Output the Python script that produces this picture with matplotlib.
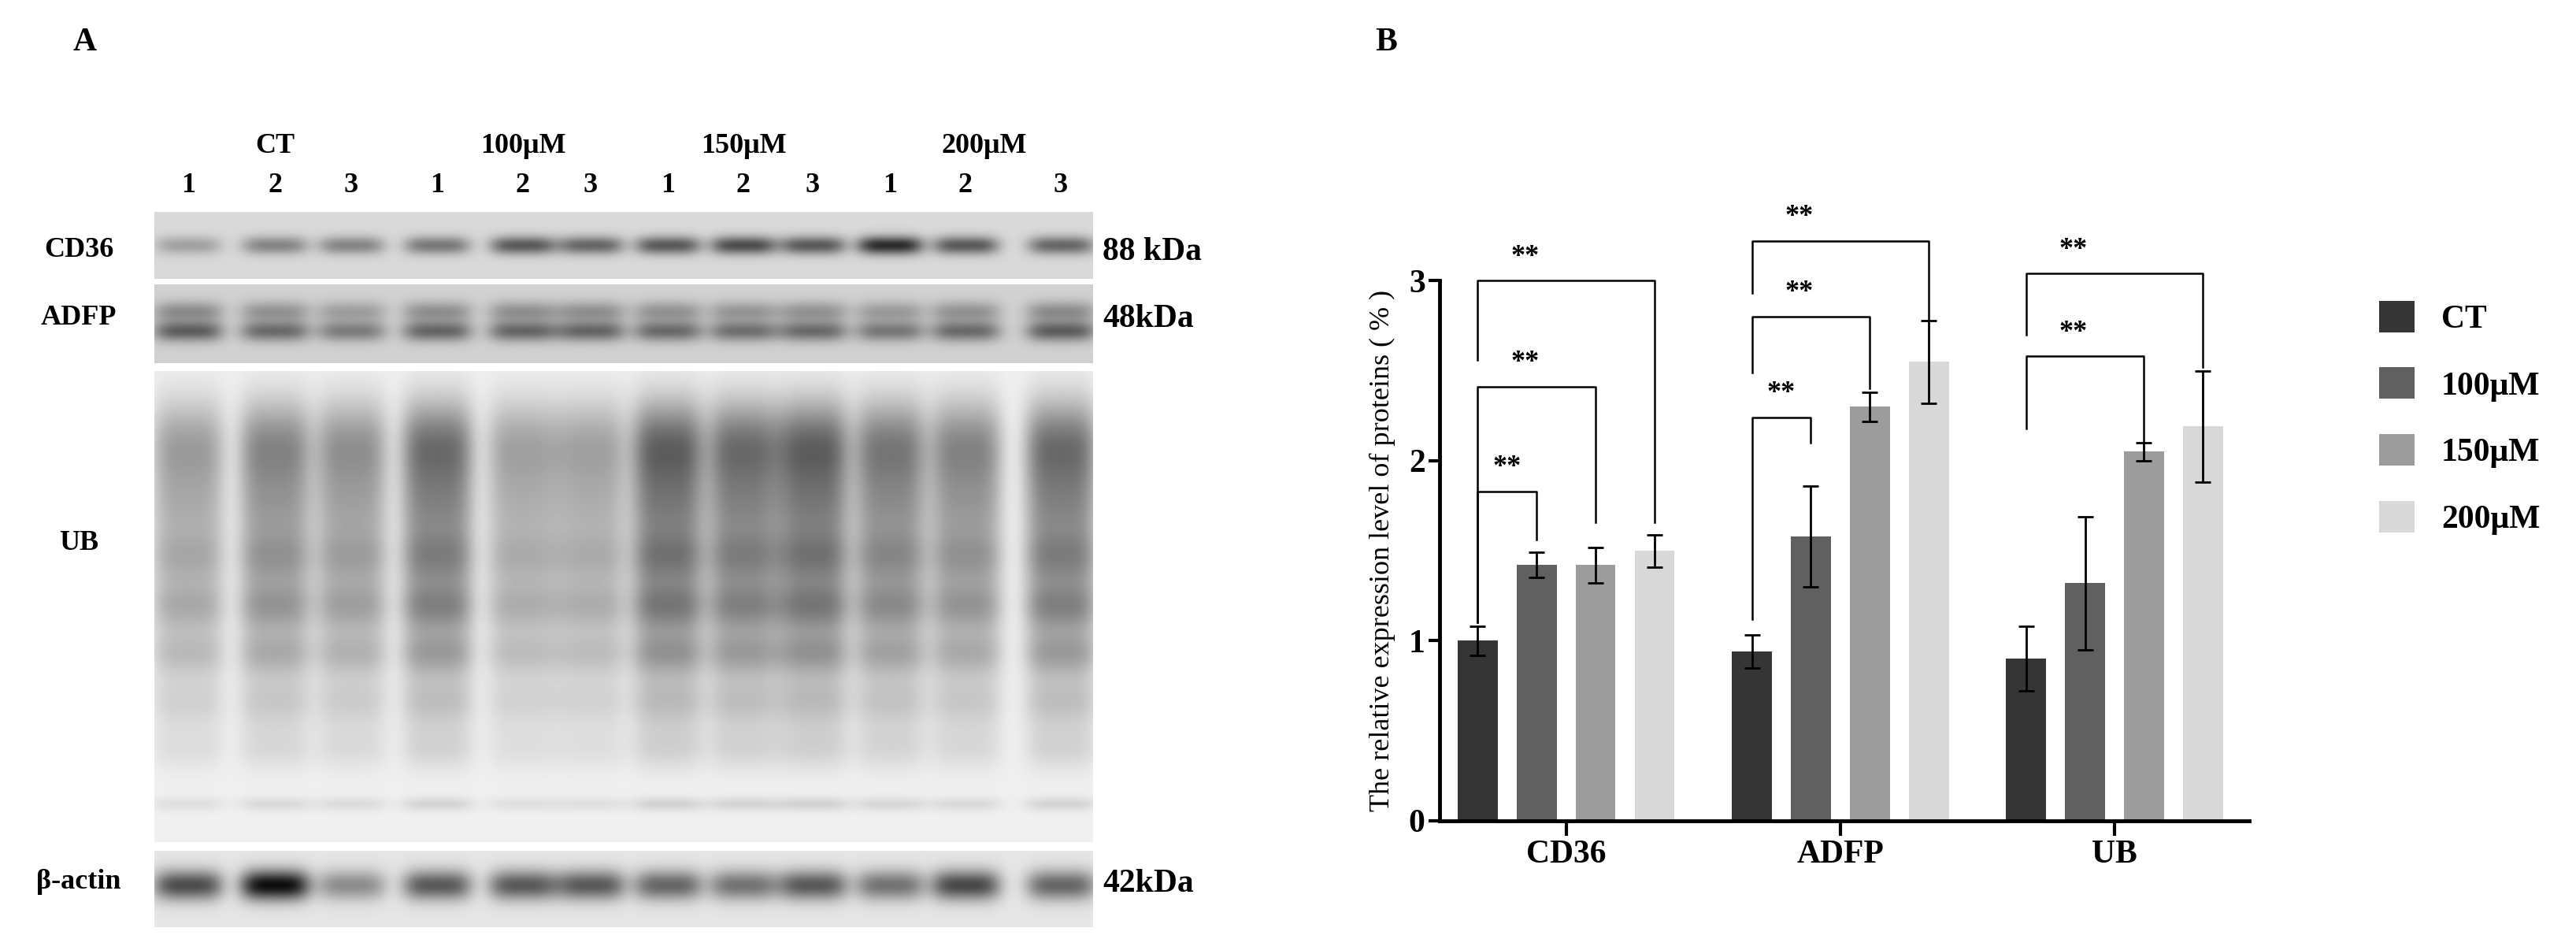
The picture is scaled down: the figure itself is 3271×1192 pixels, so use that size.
import numpy as np
import matplotlib
matplotlib.use("Agg")
import matplotlib.pyplot as plt
from matplotlib.patches import Patch

plt.rcParams['font.family'] = ['Liberation Serif', 'DejaVu Serif']
plt.rcParams['font.weight'] = 'bold'

# ---------------- data ----------------
proteins = ["CD36", "ADFP", "UB"]
groups = ["CT", "100\u03bcM", "150\u03bcM", "200\u03bcM"]
colors = ["#353535", "#606060", "#9c9c9c", "#d8d8d8"]
means = {
    "CT":      [1.00, 0.94, 0.90],
    "100\u03bcM": [1.42, 1.58, 1.32],
    "150\u03bcM": [1.42, 2.30, 2.05],
    "200\u03bcM": [1.50, 2.55, 2.19],
}
errs = {
    "CT":      [0.08, 0.09, 0.18],
    "100\u03bcM": [0.07, 0.28, 0.37],
    "150\u03bcM": [0.10, 0.08, 0.05],
    "200\u03bcM": [0.09, 0.23, 0.31],
}
# brackets: (protein idx, group idx to, height, left leg bottom, right leg bottom)
brackets = [
    (0, 1, 1.83, 1.10, 1.56), (0, 2, 2.41, 1.10, 1.66), (0, 3, 3.00, 2.56, 1.66),
    (1, 1, 2.24, 1.12, 2.10), (1, 2, 2.80, 2.49, 2.40), (1, 3, 3.22, 2.93, 2.78),
    (2, 2, 2.58, 2.18, 2.10), (2, 3, 3.04, 2.70, 2.52),
]

lane_headers = ["CT", "100\u03bcM", "150\u03bcM", "200\u03bcM"]
lane_numbers = ["1", "2", "3"] * 4
lane_x = [239, 349, 446, 555, 664, 750, 848, 944, 1032, 1130, 1226, 1347]
cd36_int = [0.22, 0.33, 0.33, 0.38, 0.5, 0.45, 0.5, 0.55, 0.5, 0.68, 0.5, 0.45]
adfp_int = [0.45, 0.40, 0.33, 0.42, 0.42, 0.42, 0.40, 0.38, 0.40, 0.35, 0.40, 0.45]
ub_int = [0.35, 0.45, 0.40, 0.55, 0.33, 0.33, 0.60, 0.55, 0.60, 0.50, 0.45, 0.55]
actin_int = [0.60, 0.85, 0.35, 0.55, 0.55, 0.55, 0.50, 0.45, 0.55, 0.45, 0.62, 0.50]

W, H = 3271, 1192
fig = plt.figure(figsize=(W / 100, H / 100), dpi=100)

def fx(x): return x / W
def fy(y): return 1 - y / H

# ---------------- Panel A ----------------
x0, x1 = 196, 1388
xs = np.arange(x0, x1)

def strip(ytop, ybot, bg, bands):
    h = ybot - ytop
    ys = np.linspace(0, 1, h)[:, None]
    img = np.full((h, len(xs)), bg)
    for (yc, sy, ints, sx) in bands:
        for lx, I in zip(lane_x, ints):
            prof = np.exp(-((xs - lx) / sx) ** 4)[None, :]
            img -= I * prof * np.exp(-((ys - yc) / sy) ** 2)
    ax = fig.add_axes([fx(x0), fy(ybot), fx(x1 - x0), (ybot - ytop) / H])
    ax.imshow(np.clip(img, 0, 1), cmap="gray", vmin=0, vmax=1, aspect="auto",
              interpolation="bilinear")
    ax.axis("off")

strip(269, 354, 0.85, [(0.5, 0.14, cd36_int, 42)])
strip(361, 461, 0.82, [(0.6, 0.13, adfp_int, 44), (0.35, 0.13, [v * 0.6 for v in adfp_int], 44)])
ub_rows = [(0.16, 0.10, 0.9), (0.30, 0.09, 0.6), (0.40, 0.06, 0.6), (0.50, 0.06, 0.75),
           (0.60, 0.05, 0.55), (0.70, 0.06, 0.35), (0.80, 0.05, 0.2), (0.92, 0.015, 0.2)]
strip(471, 1069, 0.94, [(yc, sy, [v * k for v in ub_int], 46) for yc, sy, k in ub_rows])
strip(1080, 1177, 0.90, [(0.45, 0.2, actin_int, 44)])

fs_small = 26
fig.text(fx(108), fy(54), "A", fontsize=30, ha="center", va="center")
hdr_x = [349, 664, 944, 1250]
for t, x in zip(lane_headers, hdr_x):
    fig.text(fx(x), fy(185), t, fontsize=fs_small, ha="center", va="center")
for t, x in zip(lane_numbers, lane_x):
    fig.text(fx(x), fy(235), t, fontsize=fs_small, ha="center", va="center")
for t, y in [("CD36", 318), ("ADFP", 403), ("UB", 690), ("\u03b2-actin", 1120)]:
    fig.text(fx(100), fy(y), t, fontsize=fs_small, ha="center", va="center")
for t, y in [("88 kDa", 320), ("48kDa", 405), ("42kDa", 1122)]:
    fig.text(fx(1400), fy(y), t, fontsize=30, ha="left", va="center")

# ---------------- Panel B ----------------
fig.text(fx(1760), fy(54), "B", fontsize=30, ha="center", va="center")
ax = fig.add_axes([0.559, 0.126, 0.873 - 0.559, 0.701 - 0.126])
bw = 0.146
step = 0.215
xc = np.arange(len(proteins))
for i, g in enumerate(groups):
    pos = xc + (i - 1.5) * step
    ax.bar(pos, means[g], width=bw, color=colors[i], label=g, zorder=2)
    ax.errorbar(pos, means[g], yerr=errs[g], fmt="none", ecolor="black",
                elinewidth=2, capsize=7, capthick=2, zorder=3)
for p, g, hgt, lb, rb in brackets:
    xl = p - 1.5 * step
    xr = p + (g - 1.5) * step
    ax.plot([xl, xl, xr, xr], [lb, hgt, hgt, rb], color="black", lw=1.8,
            clip_on=False, zorder=4)
    ax.text(xl + 0.5 * step * min(g, 1.6), hgt + 0.06, "**", fontsize=26,
            ha="center", va="bottom", clip_on=False)
ax.set_xlim(-0.46, 2.49)
ax.set_ylim(0, 3)
ax.set_yticks([0, 1, 2, 3])
ax.set_xticks(xc)
ax.set_xticklabels(proteins, fontsize=30)
ax.tick_params(axis="y", labelsize=30, width=3, length=10)
ax.tick_params(axis="x", width=3, length=14)
for s in ["top", "right"]:
    ax.spines[s].set_visible(False)
for s in ["left", "bottom"]:
    ax.spines[s].set_linewidth(3.5)
ax.set_ylabel("The relative expression level of proteins ( % )", fontsize=26,
              labelpad=12)
handles = [Patch(facecolor=c, edgecolor="none") for c in colors]
fig.legend(handles, groups, loc="center left", bbox_to_anchor=(0.912, 0.555),
           frameon=False, fontsize=30, handlelength=1.1, handleheight=1.1,
           labelspacing=1.0, handletextpad=0.8)

fig.savefig("out.png", dpi=100)
